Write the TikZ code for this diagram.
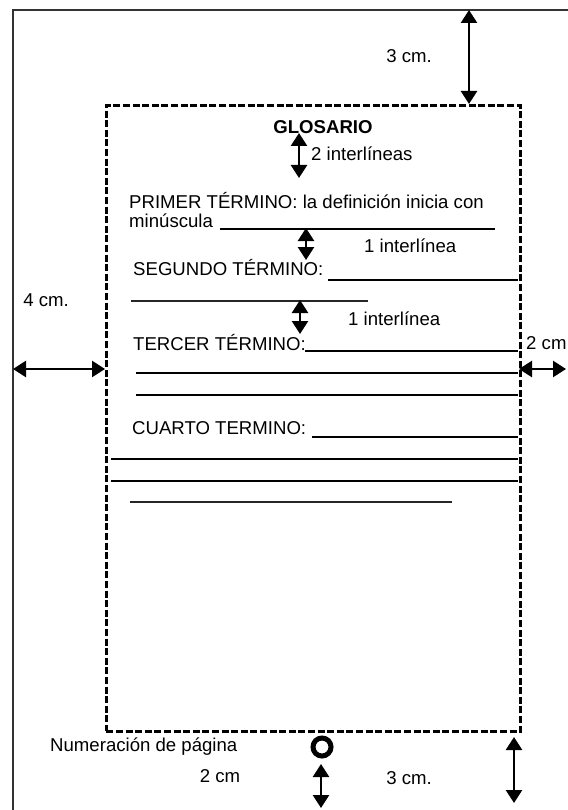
\documentclass[tikz,border=0pt]{standalone}
\usepackage{fontspec}
\setmainfont{Liberation Sans}
\usetikzlibrary{arrows.meta}
\tikzset{
  txt/.style={inner sep=0pt, font=\fontsize{18.6}{21}\selectfont},
  ltxt/.style={txt, anchor=west},
  dim/.style={line width=2.6pt, {Triangle[length=13pt,width=16pt]}-{Triangle[length=13pt,width=16pt]}},
  uline/.style={line width=1.7pt},
  thinline/.style={line width=1.1pt, black!85},
  frame/.style={line width=1.1pt, black!80},
  margin/.style={line width=2.8pt, dash pattern=on 7pt off 2.6pt}
}
\begin{document}
\begin{tikzpicture}[x=1pt,y=-1pt]
\useasboundingbox (0,0) rectangle (567,810);
% outer page frame
\coordinate (pBL) at (13,812);
\coordinate (pTL) at (13,10);
\coordinate (pTR) at (570,10);
\draw[frame] (pBL) -- (pTL) -- (pTR);
% dashed text area
\node[draw, margin, minimum width=414pt, minimum height=626pt, inner sep=0pt, anchor=north west] (area) at (105,104) {};
% top margin
\coordinate (tA) at (469,10);
\coordinate (tB) at (469,104);
\draw[dim] (tA) -- (tB);
\node[txt] (t3) at (409,56) {3 cm.};
% GLOSARIO
\node[txt, font=\fontsize{18.6}{21}\selectfont\bfseries] (glos) at (323,127) {GLOSARIO};
\coordinate (g1) at (299,133);
\coordinate (g2) at (299,178);
\draw[dim] (g1) -- (g2);
\node[ltxt] (i2) at (311,154) {2 interlíneas};
% primer termino
\node[ltxt] (p1) at (129,201) {PRIMER TÉRMINO: la definición inicia con};
\node[ltxt] (p2) at (129,221) {minúscula};
\coordinate (l1a) at (220,229);
\coordinate (l1b) at (495,229);
\draw[uline] (l1a) -- (l1b);
\coordinate (a1) at (306,228);
\coordinate (a1b) at (306,260);
\draw[dim] (a1) -- (a1b);
\node[ltxt] (i1a) at (364,246) {1 interlínea};
% segundo
\node[ltxt] (s1) at (133,268) {SEGUNDO TÉRMINO:};
\coordinate (l2a) at (328,280);
\coordinate (l2b) at (518,280);
\draw[uline] (l2a) -- (l2b);
\coordinate (l3a) at (131,301);
\coordinate (l3b) at (368,301);
\draw[thinline] (l3a) -- (l3b);
\coordinate (a2) at (300,300);
\coordinate (a2b) at (300,334);
\draw[dim] (a2) -- (a2b);
\node[ltxt] (i1b) at (348,319) {1 interlínea};
% tercer
\node[ltxt] (c1) at (133,343) {TERCER TÉRMINO:};
\coordinate (l4a) at (305,351);
\coordinate (l4b) at (518,351);
\draw[uline] (l4a) -- (l4b);
\coordinate (l5a) at (136,373);
\coordinate (l5b) at (518,373);
\draw[uline] (l5a) -- (l5b);
\coordinate (l6a) at (136,395);
\coordinate (l6b) at (518,395);
\draw[uline] (l6a) -- (l6b);
% right margin
\node[ltxt] (r2) at (526,343) {2 cm};
\coordinate (rA) at (519,369);
\coordinate (rB) at (566,369);
\draw[dim] (rA) -- (rB);
% left margin
\node[txt] (l4) at (46,300) {4 cm.};
\coordinate (lA) at (13,369);
\coordinate (lB) at (105,369);
\draw[dim] (lA) -- (lB);
% cuarto
\node[ltxt] (q1) at (132,428) {CUARTO TERMINO:};
\coordinate (l7a) at (312,437);
\coordinate (l7b) at (518,437);
\draw[uline] (l7a) -- (l7b);
\coordinate (l8a) at (111,459);
\coordinate (l8b) at (518,459);
\draw[uline] (l8a) -- (l8b);
\coordinate (l9a) at (111,481);
\coordinate (l9b) at (518,481);
\draw[uline] (l9a) -- (l9b);
\coordinate (l10a) at (130,502);
\coordinate (l10b) at (452,502);
\draw[thinline] (l10a) -- (l10b);
% page number
\node[draw, circle, line width=5pt, minimum size=18pt, inner sep=0pt] (pn) at (322,747) {};
\node[ltxt] (num) at (50,747) {Numeración de página};
\node[txt] (b2) at (220,776) {2 cm};
\coordinate (bA) at (321,764);
\coordinate (bB) at (321,808);
\draw[dim] (bA) -- (bB);
\node[txt] (b3) at (409,778) {3 cm.};
\coordinate (cA) at (514,737);
\coordinate (cB) at (514,803);
\draw[dim] (cA) -- (cB);
\end{tikzpicture}
\end{document}
